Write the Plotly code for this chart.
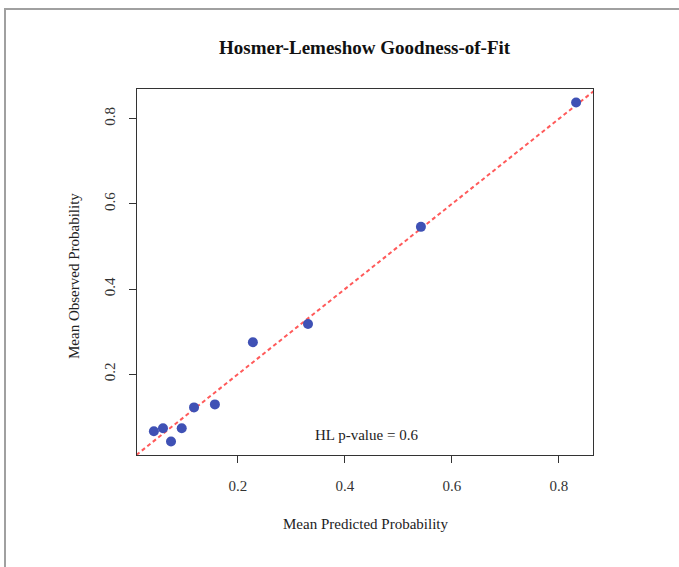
import plotly.graph_objects as go

# Data
mean_predicted = [0.043, 0.060, 0.075, 0.095, 0.118, 0.157, 0.228, 0.331, 0.542, 0.832]
mean_observed = [0.066, 0.073, 0.042, 0.073, 0.122, 0.129, 0.275, 0.318, 0.546, 0.838]
ref_line = [0.0, 1.0]
tick_vals = [0.2, 0.4, 0.6, 0.8]
tick_text = ["0.2", "0.4", "0.6", "0.8"]
hl_p_value = 0.6

SERIF = "Liberation Serif, Times New Roman, serif"

fig = go.Figure()
fig.add_trace(go.Scatter(
    x=ref_line, y=ref_line, mode="lines",
    line=dict(color="#FF5A5A", width=2, dash="4px,3px"),
    hoverinfo="skip", showlegend=False,
))
fig.add_trace(go.Scatter(
    x=mean_predicted, y=mean_observed, mode="markers",
    marker=dict(color="#3F51B5", size=10, line=dict(width=0)),
    showlegend=False, cliponaxis=False,
))

xr = [min(mean_predicted), max(mean_predicted)]
yr = [min(mean_observed), max(mean_observed)]
xpad = 0.04 * (xr[1] - xr[0])
ypad = 0.04 * (yr[1] - yr[0])

axis_common = dict(
    showgrid=False, zeroline=False, showline=True, mirror=True,
    linecolor="#333333", linewidth=1,
    ticks="outside", ticklen=7, tickcolor="#333333", tickwidth=1,
    tickvals=tick_vals, ticktext=tick_text,
    tickfont=dict(family=SERIF, size=15, color="#333333"),
)

fig.update_layout(
    width=679, height=567,
    margin=dict(l=137, r=86, t=89, b=112),
    paper_bgcolor="white", plot_bgcolor="white",
    xaxis=dict(range=[xr[0] - xpad, xr[1] + xpad], ticklabelstandoff=10, **axis_common),
    yaxis=dict(range=[yr[0] - ypad, yr[1] + ypad], tickangle=-90, ticklabelstandoff=8, **axis_common),
    annotations=[
        dict(text="<b>Hosmer-Lemeshow Goodness-of-Fit</b>", xref="paper", yref="paper",
             x=0.5, y=1 + (89 - 48) / 366, xanchor="center", yanchor="middle",
             showarrow=False, font=dict(family=SERIF, size=19, color="#111111")),
        dict(text="Mean Predicted Probability", xref="paper", yref="paper",
             x=0.5, y=-(524 - 455) / 366, xanchor="center", yanchor="middle",
             showarrow=False, font=dict(family=SERIF, size=15, color="#222222")),
        dict(text="Mean Observed Probability", xref="paper", yref="paper",
             x=-(137 - 74) / 456, y=(455 - 276) / 366, xanchor="center", yanchor="middle",
             textangle=-90, showarrow=False, font=dict(family=SERIF, size=15, color="#222222")),
        dict(text=f"HL p-value = {hl_p_value}", xref="x", yref="y",
             x=0.441, y=0.056, xanchor="center", yanchor="middle",
             showarrow=False, font=dict(family=SERIF, size=15, color="#222222")),
    ],
    shapes=[
        dict(type="line", xref="paper", yref="paper",
             x0=(5 - 137) / 456, x1=(679 - 137) / 456,
             y0=(455 - 9) / 366, y1=(455 - 9) / 366,
             line=dict(color="#A0A0A0", width=2)),
        dict(type="line", xref="paper", yref="paper",
             x0=(5 - 137) / 456, x1=(5 - 137) / 456,
             y0=(455 - 8) / 366, y1=(455 - 567) / 366,
             line=dict(color="#A0A0A0", width=2)),
    ],
)

fig.write_html(
    "out.html",
    config={"displayModeBar": False},
    post_script="document.body.style.margin='0';document.body.style.overflow='hidden';",
)
